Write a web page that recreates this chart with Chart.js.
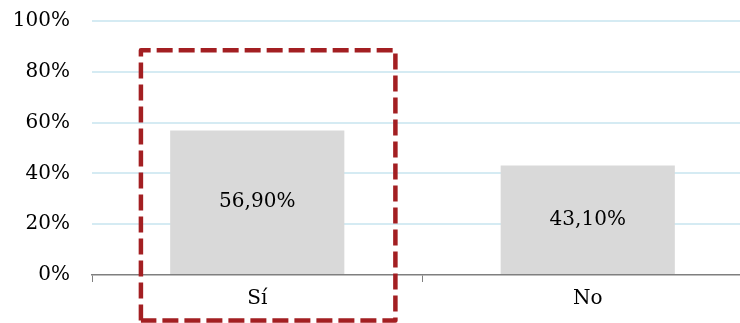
<!DOCTYPE html>
<html lang="es">
<head>
<meta charset="UTF-8">
<title>Sí / No</title>
<script src="https://cdn.jsdelivr.net/npm/chart.js@4"></script>
<style>
  html, body { margin: 0; padding: 0; background: #fff; overflow: hidden; }
  .wrap { width: 740px; height: 323px; overflow: hidden; }
  canvas { display: block; }
</style>
</head>
<body>
<div class="wrap">
  <canvas id="chart" width="753" height="323"></canvas>
</div>
<script>
// data
const categories = ['Sí', 'No'];
const values = [56.9, 43.1];
const yTicks = [0, 20, 40, 60, 80, 100];

// dashed box around the first category (fractions of category width, values in %)
const highlight = { index: 0, from: -0.352, to: 0.418, top: 88.5, bottom: -17.9 };

const serif = "'DejaVu Serif', serif";

const fmt = v => v.toFixed(2).replace('.', ',') + '%';

// value labels centred in the bars
const barLabels = {
  id: 'barLabels',
  afterDatasetsDraw(chart) {
    const ctx = chart.ctx;
    const meta = chart.getDatasetMeta(0);
    ctx.save();
    ctx.font = '20px ' + serif;
    ctx.fillStyle = '#000';
    ctx.textAlign = 'center';
    ctx.textBaseline = 'middle';
    meta.data.forEach((bar, i) => {
      ctx.fillText(fmt(values[i]), bar.x, (bar.y + bar.base) / 2);
    });
    ctx.restore();
  }
};

// red dashed frame
const highlightBox = {
  id: 'highlightBox',
  afterDraw(chart) {
    const x = chart.scales.x, y = chart.scales.y;
    const cw = x.getPixelForValue(1) - x.getPixelForValue(0);
    const cx = x.getPixelForValue(highlight.index);
    const l = cx + highlight.from * cw, r = cx + highlight.to * cw;
    const t = y.getPixelForValue(highlight.top), b = y.getPixelForValue(highlight.bottom);
    const ctx = chart.ctx;
    ctx.save();
    ctx.strokeStyle = '#A31F22';
    ctx.lineWidth = 4.5;
    ctx.setLineDash([16, 6]);
    ctx.lineJoin = 'round';
    ctx.beginPath();
    ctx.moveTo(l, b);
    ctx.lineTo(l, t);
    ctx.lineTo(r, t);
    ctx.lineTo(r, b);
    ctx.lineTo(l, b);
    ctx.stroke();
    ctx.restore();
  }
};

new Chart(document.getElementById('chart'), {
  type: 'bar',
  data: {
    labels: categories,
    datasets: [{
      data: values,
      backgroundColor: '#D9D9D9',
      borderWidth: 0,
      categoryPercentage: 1,
      barPercentage: 0.527
    }]
  },
  options: {
    responsive: false,
    animation: false,
    layout: { padding: { top: 21, right: 0, bottom: 0, left: 0 } },
    plugins: { legend: { display: false }, tooltip: { enabled: false } },
    scales: {
      x: {
        offset: true,
        grid: {
          offset: true,
          drawOnChartArea: false,
          drawTicks: true,
          tickLength: 7,
          color: '#7F7F7F',
          lineWidth: 1
        },
        border: { display: true, color: '#7F7F7F', width: 1.5 },
        ticks: { color: '#000', font: { family: serif, size: 20 }, padding: 5 },
        afterFit: s => { s.height = 48; s.paddingLeft = 0; s.paddingRight = 0; }
      },
      y: {
        min: 0,
        max: 100,
        afterBuildTicks: s => { s.ticks = yTicks.map(v => ({ value: v })); },
        grid: {
          drawTicks: false,
          tickLength: 0,
          color: c => c.tick && c.tick.value === 0 ? 'rgba(0,0,0,0)' : '#D5EBF3',
          lineWidth: 2
        },
        border: { display: false },
        ticks: {
          color: '#000',
          font: { family: serif, size: 20 },
          padding: 22,
          callback: v => v + '%'
        },
        afterFit: s => { s.width = 92; s.paddingTop = 0; s.paddingBottom = 0; }
      }
    }
  },
  plugins: [barLabels, highlightBox]
});
</script>
</body>
</html>
